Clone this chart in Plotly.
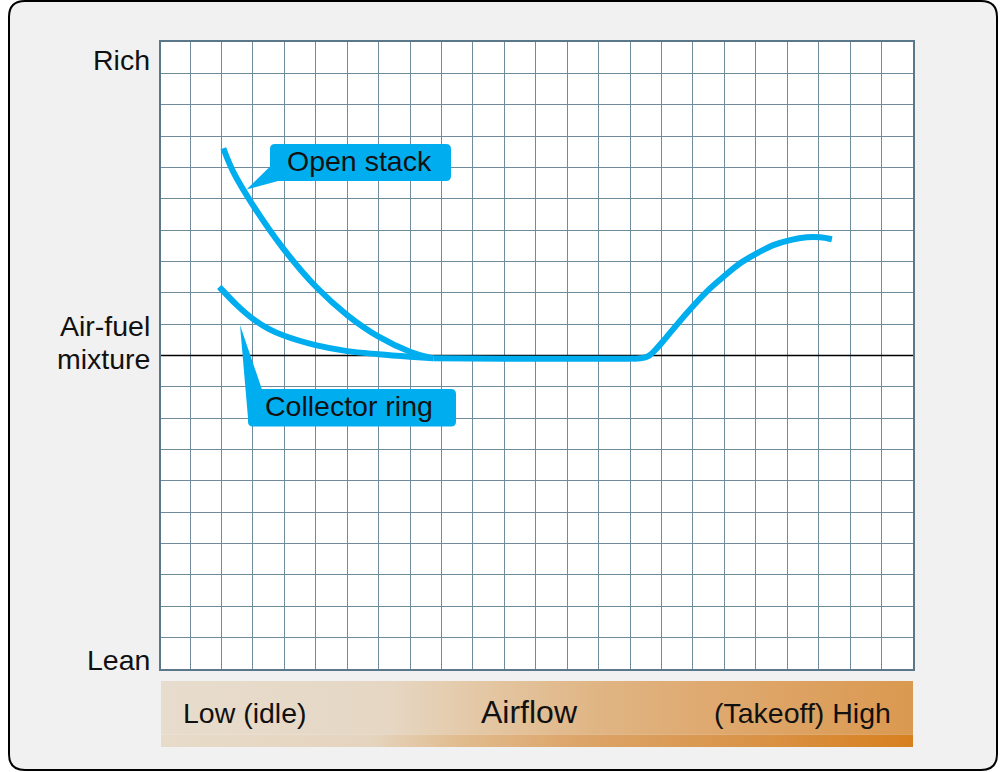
import plotly.graph_objects as go

# ---- data ------------------------------------------------------------
open_stack_x = [1.06, 1.38, 2, 3, 4, 5, 6, 7, 7.74]
open_stack_y = [16.61, 15.85, 14.8, 13.37, 12.2, 11.29, 10.6, 10.12, 9.91]

collector_x = [0.93, 1.5, 2, 2.5, 3, 4, 5, 6, 7, 7.74]
collector_y = [12.19, 11.6, 11.17, 10.85, 10.63, 10.33, 10.14, 10.04, 9.96, 9.91]

# both curves merge into one line that rises again towards takeoff
common_x = [7.74, 10, 12, 14.0, 14.32, 14.58, 14.85, 15.17, 15.8, 16.44, 16.97, 17.5,
            18.03, 18.56, 19.09, 19.62, 20.04, 20.42]
common_y = [9.91, 9.9, 9.9, 9.9, 9.91, 9.98, 10.23, 10.6, 11.35, 12.04, 12.51, 12.94,
            13.26, 13.52, 13.68, 13.77, 13.77, 13.71]

mixture_level = 10
y_labels = ["Rich", "Air-fuel", "mixture", "Lean"]
airflow_labels = ["Low (idle)", "Airflow", "(Takeoff) High"]
callout_labels = ["Open stack", "Collector ring"]

# ---- look ------------------------------------------------------------
BLUE = "#00AEEF"
GRID = "#6f8a9b"
BORDER = "#5b788a"
FONT = "Liberation Sans, Arial, Helvetica, sans-serif"

# pixel box of the plotting region (grid + airflow bar)
PL, PR, PT, PB = 161, 913, 42, 747


def paper_x(px):
    return (px - PL) / (PR - PL)


def paper_y(py):
    return (PB - py) / (PB - PT)


def rounded_rect(x0, y0, x1, y1, r):
    rx = r / (PR - PL)
    ry = r / (PB - PT)
    a, b = paper_x(x0), paper_x(x1)
    t, btm = paper_y(y0), paper_y(y1)
    return (f"M {a + rx},{t} L {b - rx},{t} Q {b},{t} {b},{t - ry} "
            f"L {b},{btm + ry} Q {b},{btm} {b - rx},{btm} L {a + rx},{btm} "
            f"Q {a},{btm} {a},{btm + ry} L {a},{t - ry} Q {a},{t} {a + rx},{t} Z")


def polygon(points):
    return "M " + " L ".join(f"{paper_x(x)},{paper_y(y)}" for x, y in points) + " Z"


x_range = [-0.923, 23]

fig = go.Figure()

fig.add_trace(go.Scatter(x=x_range, y=[mixture_level, mixture_level], mode="lines",
                         line=dict(color="black", width=1.6)))
for xs, ys in [(open_stack_x, open_stack_y), (collector_x, collector_y), (common_x, common_y)]:
    fig.add_trace(go.Scatter(x=xs, y=ys, mode="lines",
                             line=dict(color=BLUE, width=6, shape="spline", smoothing=1.0)))

# airflow bar with its gradient
split = 0.19
fig.add_trace(go.Scatter(x=[0, 1, 1, 0, 0], y=[split, split, 1, 1, split], mode="lines",
                         xaxis="x2", yaxis="y2", fill="toself", line=dict(width=0),
                         fillgradient=dict(type="horizontal", colorscale=[
                             [0, "#e7dccd"], [0.3, "#e6d7c4"], [0.42, "#e4c8a6"],
                             [0.58, "#e0b584"], [0.72, "#dfaa71"], [1, "#da9950"]])))
fig.add_trace(go.Scatter(x=[0, 1, 1, 0, 0], y=[0, 0, split, split, 0], mode="lines",
                         xaxis="x2", yaxis="y2", fill="toself", line=dict(width=0),
                         fillgradient=dict(type="horizontal", colorscale=[
                             [0, "#e7dbc9"], [0.28, "#e5d4be"], [0.4, "#e1bb8d"],
                             [0.55, "#dca56a"], [0.8, "#d99245"], [1, "#d7801f"]])))

shapes = [
    dict(type="path", path=rounded_rect(9, 1, 997, 770, 16), xref="paper", yref="paper",
         fillcolor="#f1f1f1", line=dict(color="black", width=2), layer="below"),
    dict(type="rect", x0=0, x1=1, y0=paper_y(669), y1=1, xref="paper", yref="paper",
         fillcolor="white", line=dict(width=0), layer="below"),
    # "Open stack" callout
    dict(type="path", path=rounded_rect(270, 144, 451, 181, 5), xref="paper", yref="paper",
         fillcolor=BLUE, line=dict(width=0)),
    dict(type="path", path=polygon([(270.5, 166), (246.5, 189.5), (280, 180.5)]),
         xref="paper", yref="paper", fillcolor=BLUE, line=dict(width=0)),
    # "Collector ring" callout
    dict(type="path", path=rounded_rect(248, 389, 456, 426.5, 5), xref="paper", yref="paper",
         fillcolor=BLUE, line=dict(width=0)),
    dict(type="path", path=polygon([(240, 325), (262, 389.5), (251, 421), (248, 418)]),
         xref="paper", yref="paper", fillcolor=BLUE, line=dict(width=0)),
]

annotations = []


def label(text, px, py, anchor, size=28.5):
    annotations.append(dict(text=text, x=paper_x(px), y=paper_y(py), xref="paper", yref="paper",
                            xanchor=anchor, yanchor="middle", showarrow=False,
                            font=dict(family=FONT, size=size, color="#111")))


label(y_labels[0], 152, 60, "right")
label(y_labels[1], 152, 325.5, "right")
label(y_labels[2], 152, 358.5, "right")
label(y_labels[3], 152, 659.5, "right")
label(callout_labels[0], 359, 161, "center")
label(callout_labels[1], 348.5, 406, "center")
label(airflow_labels[0], 180.5, 712.5, "left")
label(airflow_labels[1], 529.5, 712, "center", size=32)
label(airflow_labels[2], 892.5, 713, "right")

axis_common = dict(showgrid=True, gridcolor=GRID, gridwidth=1, dtick=1, tick0=0,
                   showticklabels=False, ticks="", zeroline=False, showline=True,
                   mirror=True, linecolor=BORDER, linewidth=2, fixedrange=True)

fig.update_layout(
    width=1001, height=772,
    margin=dict(l=PL, r=1001 - PR, t=PT, b=772 - PB, pad=0),
    paper_bgcolor="white", plot_bgcolor="rgba(0,0,0,0)",
    showlegend=False, hovermode=False,
    xaxis=dict(domain=[0, 1], range=x_range, anchor="y", **axis_common),
    yaxis=dict(domain=[paper_y(669), 1], range=[0, 20], anchor="x", **axis_common),
    xaxis2=dict(domain=[0, 1], range=[0, 1], anchor="y2", visible=False, fixedrange=True),
    yaxis2=dict(domain=[0, paper_y(681)], range=[0, 1], anchor="x2", visible=False,
                fixedrange=True),
    shapes=shapes,
    annotations=annotations,
)

# the page's default body margin would push the figure 8px off the window corner
fig.write_html("out.html", config={"displayModeBar": False},
               post_script="document.body.style.margin = '0';")
